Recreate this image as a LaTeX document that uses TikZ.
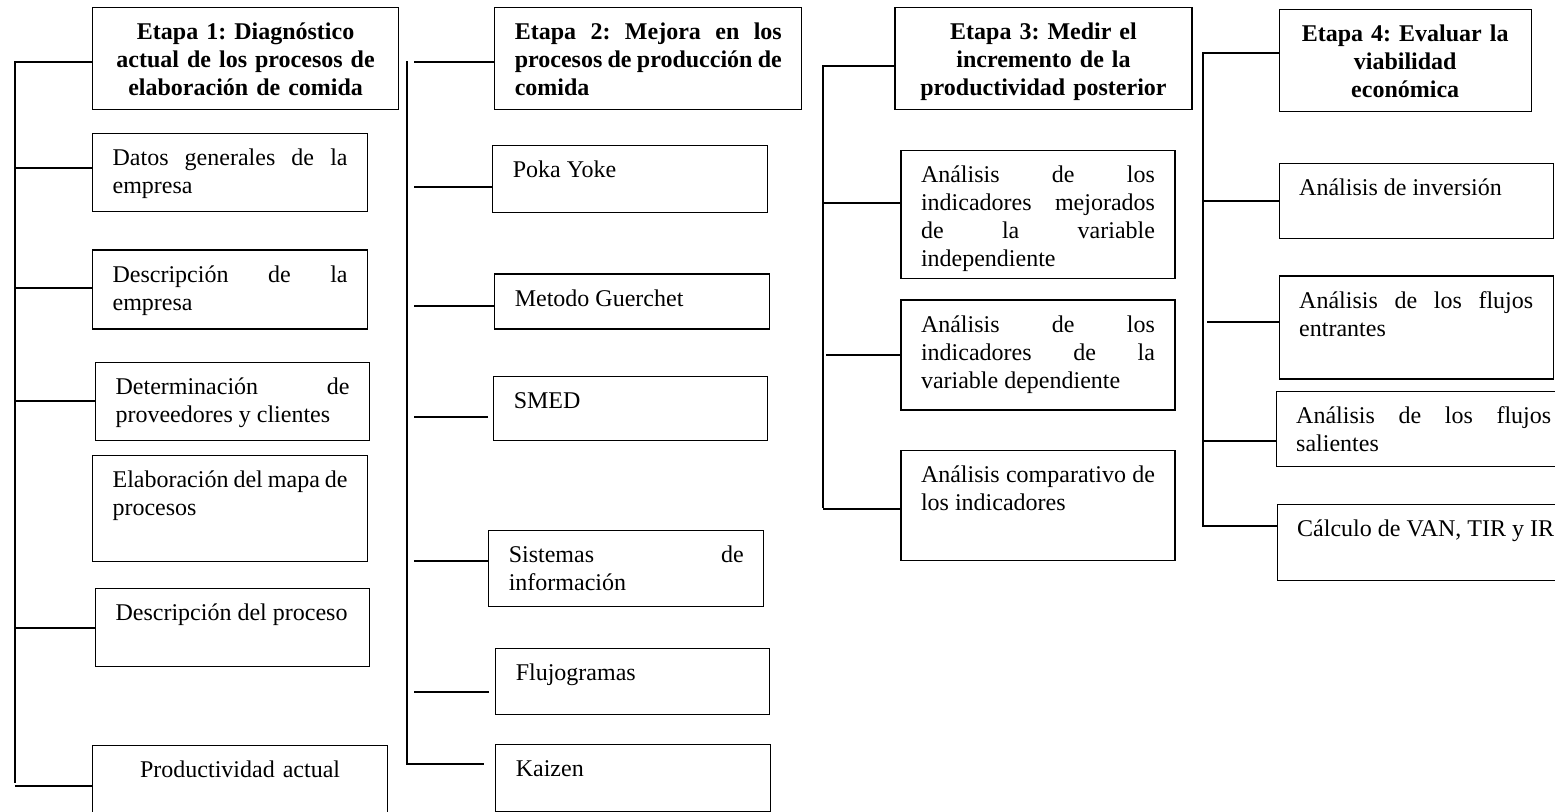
\documentclass[tikz,border=0pt]{standalone}
\usepackage{fontspec}
\setmainfont{Liberation Serif}
\usetikzlibrary{positioning}
\hyphenpenalty=10000
\frenchspacing

\begin{document}
\begin{tikzpicture}[
    x=0.5pt, y=-0.5pt,  % one unit is one pixel of the sheet
    box/.style = {draw, line width=0.6pt, anchor=north west, inner xsep=10pt, inner ysep=7pt,
                  text height=9pt, align=justify, font=\fontsize{12}{14}\selectfont},
    stage/.style = {box, align=center, font=\fontsize{12}{14}\selectfont\bfseries},
    link/.style = {line width=1pt}
  ]
    \useasboundingbox (0,0) rectangle (1555,811);
    \clip (0,0) rectangle (1555,811);

    % trunks of the four columns
    \coordinate (t1) at (15,61);   \coordinate (b1) at (15,783);
    \coordinate (t2) at (407,61);  \coordinate (b2) at (407,764);
    \coordinate (g2) at (414,61);  % col 2 links stop short of the trunk
    \coordinate (t3) at (823,65);  \coordinate (b3) at (823,508);
    \coordinate (t4) at (1203,52); \coordinate (b4) at (1203,526);

    % Etapa 1
    \node[stage, text width=133pt, text depth=28pt] (s1) at (92,7) {Etapa 1: Diagnóstico\\ actual de los procesos de\\ elaboración de comida};
    \node[box, text width=117.5pt, text depth=16pt] (d1) [below=11.5pt of s1.south west, anchor=north west] {Datos generales de la\linebreak empresa};
    \node[box, text width=117.5pt, text depth=16.5pt] (d2) [below=18.5pt of d1.south west, anchor=north west] {Descripción de la\linebreak empresa};
    \node[box, text width=117pt, text depth=16pt] (d3) [below=16pt of d2.south west, anchor=north west, xshift=1.5pt] {Determinación de\linebreak proveedores y clientes};
    \node[box, text width=117.5pt, text depth=30pt] (d4) [below=7pt of d3.south west, anchor=north west, xshift=-1.5pt] {Elaboración del mapa de\linebreak procesos};
    \node[box, text width=117pt, text depth=16pt] (d5) [below=13pt of d4.south west, anchor=north west, xshift=1.5pt] {Descripción del proceso};
    \node[box, align=center, text width=127.5pt, text depth=17pt] (d6) [below=39pt of d5.south west, anchor=north west, xshift=-1.5pt] {Productividad actual};

    % Etapa 2
    \node[stage, align=justify, text width=133.5pt, text depth=28pt] (s2) [right=47.5pt of s1.north east, anchor=north west] {Etapa 2: Mejora en los\linebreak procesos de producción de\linebreak comida};
    \node[box, text width=117.5pt, text depth=10.5pt] (p1) [below=17.5pt of s2.south west, anchor=north west, xshift=-1pt] {Poka Yoke};
    \node[box, text width=117.5pt, text depth=4.5pt] (p2) [below=30pt of p1.south west, anchor=north west, xshift=1pt] {Metodo Guerchet};
    \node[box, text width=117pt, text depth=9pt] (p3) [below=23pt of p2.south west, anchor=north west, xshift=-0.5pt] {SMED};
    \node[box, text width=117.5pt, text depth=15pt] (p4) [below=44.5pt of p3.south west, anchor=north west, xshift=-2.5pt] {Sistemas de\linebreak información};
    \node[box, text width=117pt, text depth=10pt] (p5) [below=20.5pt of p4.south west, anchor=north west, xshift=3.5pt] {Flujogramas};
    \node[box, text width=117.5pt, text depth=10.5pt] (p6) [below=14.5pt of p5.south west, anchor=north west] {Kaizen};

    % Etapa 3
    \node[stage, text width=128.5pt, text depth=28pt] (s3) [right=46pt of s2.north east, anchor=north west] {Etapa 3: Medir el\\ incremento de la\\ productividad posterior};
    \node[box, text width=117pt, text depth=41pt] (m1) [below=20pt of s3.south west, anchor=north west, xshift=3pt] {Análisis de los\linebreak indicadores mejorados\linebreak de la variable\linebreak independiente};
    \node[box, text width=117pt, text depth=32pt] (m2) [below=10pt of m1.south west, anchor=north west] {Análisis de los\linebreak indicadores de la\linebreak variable dependiente};
    \node[box, text width=117pt, text depth=32pt] (m3) [below=19.5pt of m2.south west, anchor=north west] {Análisis comparativo de\linebreak los indicadores};

    % Etapa 4
    \node[stage, text width=106pt, text depth=28pt] (s4) [right=43pt of s3.north east, anchor=north west, yshift=-1pt] {Etapa 4: Evaluar la\\ viabilidad\\ económica};
    \node[box, text width=117pt, text depth=14.5pt] (e1) [below=25.5pt of s4.south west, anchor=north west] {Análisis de inversión};
    \node[box, text width=117pt, text depth=28.5pt] (e2) [below=18pt of e1.south west, anchor=north west] {Análisis de los flujos\linebreak entrantes};
    \node[box, text width=127.5pt, text depth=14.5pt] (e3) [below=5.5pt of e2.south west, anchor=north west, xshift=-1.5pt] {Análisis de los flujos\linebreak salientes};
    \node[box, text width=135pt, text depth=15pt] (e4) [below=18.5pt of e3.south west, anchor=north west, xshift=0.5pt] {Cálculo de VAN, TIR y IR};

    % links, column 1
    \draw[link] ([yshift=-1.5pt]s1.west) -- ([yshift=-1.5pt]s1.west -| t1) -- (b1);
    \draw[link] ([yshift=2.5pt]d1.west) -- ([yshift=2.5pt]d1.west -| t1);
    \draw[link] ([yshift=1pt]d2.west) -- ([yshift=1pt]d2.west -| t1);
    \draw[link] (d3.west) -- (d3.west -| t1);
    \draw[link] (d5.west) -- (d5.west -| t1);
    \draw[link] (d6.west) -- (d6.west -| t1);

    % links, column 2
    \draw[link] (t2) -- (b2) -- ([xshift=-5.5pt]b2 -| p6.west);
    \draw[link] ([yshift=-1.5pt]s2.west) -- ([yshift=-1.5pt]s2.west -| g2);
    \draw[link] ([yshift=-4pt]p1.west) -- ([yshift=-4pt]p1.west -| g2);
    \draw[link] ([yshift=-2pt]p2.west) -- ([yshift=-2pt]p2.west -| g2);
    \draw[link] ([xshift=-2.5pt,yshift=-4.5pt]p3.west) -- ([yshift=-4.5pt]p3.west -| g2);
    \draw[link] ([yshift=3.5pt]p4.west) -- ([yshift=3.5pt]p4.west -| g2);
    \draw[link] ([xshift=-3pt,yshift=-5pt]p5.west) -- ([yshift=-5pt]p5.west -| g2);

    % links, column 3
    \draw[link] ([yshift=-3.5pt]s3.west) -- ([yshift=-3.5pt]s3.west -| t3) -- (b3);
    \draw[link] ([yshift=6pt]m1.west) -- ([yshift=6pt]m1.west -| t3);
    \draw[link] (m2.west) -- ([xshift=1.5pt]m2.west -| t3);
    \draw[link] ([yshift=-2pt]m3.west) -- ([yshift=-2pt]m3.west -| t3);

    % links, column 4
    \draw[link] ([yshift=4pt]s4.west) -- ([yshift=4pt]s4.west -| t4) -- (b4) -- (b4 -| e4.west);
    \draw[link] (e1.west) -- (e1.west -| t4);
    \draw[link] ([yshift=3pt]e2.west) -- ([xshift=2pt,yshift=3pt]e2.west -| t4);
    \draw[link] ([yshift=-6pt]e3.west) -- ([yshift=-6pt]e3.west -| t4);
  \end{tikzpicture}
\end{document}
